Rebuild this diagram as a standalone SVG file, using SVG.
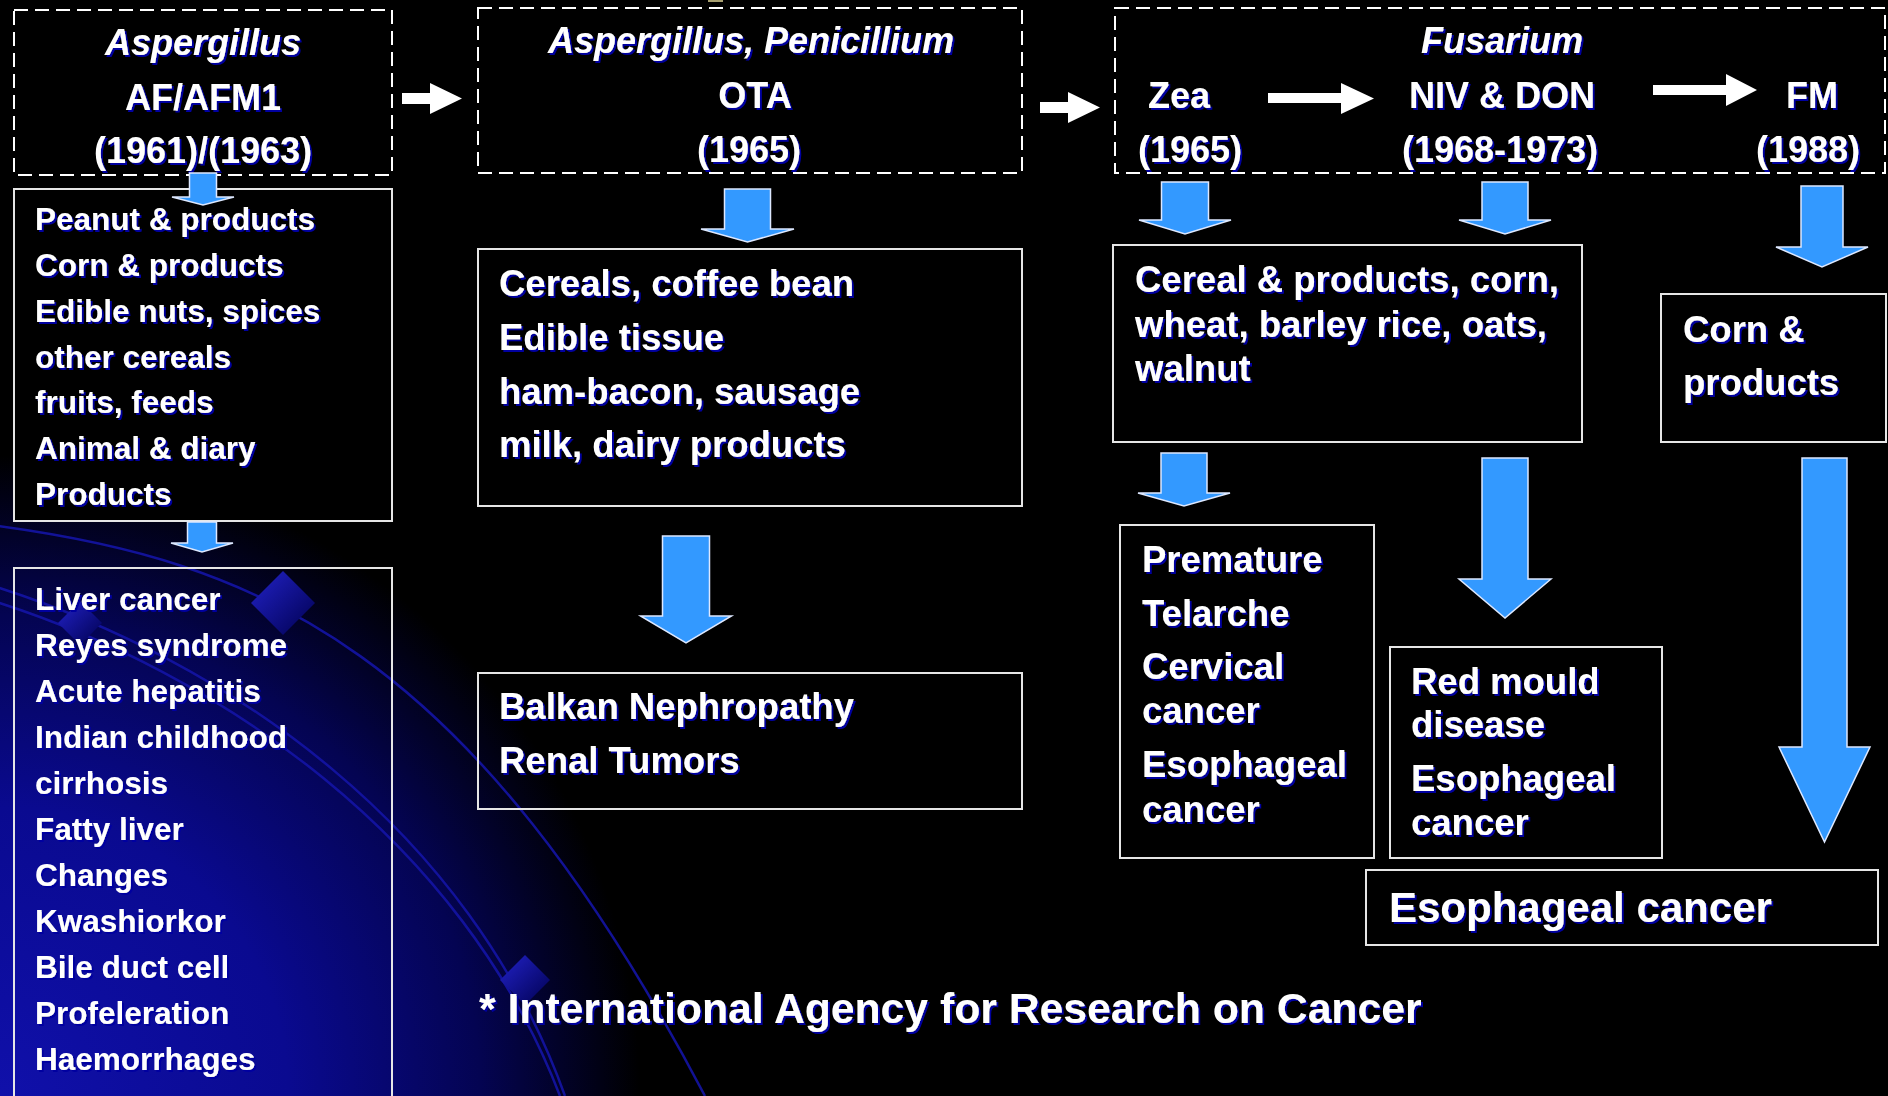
<svg xmlns="http://www.w3.org/2000/svg" width="1888" height="1096" viewBox="0 0 1888 1096">
<defs>
<radialGradient id="bg" cx="0" cy="1096" r="640" gradientUnits="userSpaceOnUse">
<stop offset="0" stop-color="#1010aa"/>
<stop offset="0.45" stop-color="#0a0a90"/>
<stop offset="0.75" stop-color="#040452"/>
<stop offset="1" stop-color="#000000"/>
</radialGradient>
<linearGradient id="dia" x1="0" y1="0" x2="1" y2="1">
<stop offset="0" stop-color="#2222c8"/>
<stop offset="1" stop-color="#000050"/>
</linearGradient>
<filter id="sh" x="-5%" y="-20%" width="110%" height="140%">
<feDropShadow dx="2" dy="2" stdDeviation="0.4" flood-color="#0000a0" flood-opacity="1"/>
</filter>
<style>
.t{font-family:"Liberation Sans",Arial,Helvetica,sans-serif;font-weight:bold;fill:#ffffff;filter:url(#sh)}
.i{font-style:italic}
.c{text-anchor:middle}
.h{font-size:36px}
.s{font-size:31.5px}
.m{font-size:36.5px}
.box{fill:none;stroke:#e6e6e6;stroke-width:2}
.dbox{fill:none;stroke:#ffffff;stroke-width:2;stroke-dasharray:14 7}
.ba{fill:#3399ff;stroke:#dde8ff;stroke-width:1.5}
.wa{fill:#ffffff}
.curve{fill:none;stroke:#1414a4;stroke-width:2.5;opacity:0.9}
</style>
</defs>
<rect x="0" y="0" width="1888" height="1096" fill="#000"/>
<rect x="0" y="0" width="1888" height="1096" fill="url(#bg)"/>
<g id="background">
<path class="curve" d="M -10,525 C 260,560 470,650 705,1096"/>
<path class="curve" d="M -10,585 C 230,660 470,830 565,1096"/>
<path class="curve" d="M -10,600 C 220,672 462,840 560,1096"/>
<polygon points="283,571 315,603 283,635 251,603" fill="url(#dia)"/>
<polygon points="80,601 102,623 80,645 58,623" fill="url(#dia)"/>
<polygon points="525,955 550,980 525,1005 500,980" fill="url(#dia)"/>
<rect x="708" y="0" width="15" height="2" fill="#a8a070"/>
</g>

<g id="node-af">
<rect class="dbox" x="14" y="10" width="378" height="165"/>
<text class="t h i c" x="203" y="55">Aspergillus</text>
<text class="t h c" x="203" y="110">AF/AFM1</text>
<text class="t h c" x="203" y="163">(1961)/(1963)</text>
</g>

<g id="node-af-foods">
<rect class="box" x="14" y="189" width="378" height="332" style="fill:#000"/>
<text class="t s" x="35" y="230">Peanut &amp; products</text>
<text class="t s" x="35" y="276">Corn &amp; products</text>
<text class="t s" x="35" y="322">Edible nuts, spices</text>
<text class="t s" x="35" y="368">other cereals</text>
<text class="t s" x="35" y="413">fruits, feeds</text>
<text class="t s" x="35" y="459">Animal &amp; diary</text>
<text class="t s" x="35" y="505">Products</text>
</g>

<g id="node-af-diseases">
<rect class="box" x="14" y="568" width="378" height="540"/>
<text class="t s" x="35" y="610">Liver cancer</text>
<text class="t s" x="35" y="656">Reyes syndrome</text>
<text class="t s" x="35" y="702">Acute hepatitis</text>
<text class="t s" x="35" y="748">Indian childhood</text>
<text class="t s" x="35" y="794">cirrhosis</text>
<text class="t s" x="35" y="840">Fatty liver</text>
<text class="t s" x="35" y="886">Changes</text>
<text class="t s" x="35" y="932">Kwashiorkor</text>
<text class="t s" x="35" y="978">Bile duct cell</text>
<text class="t s" x="35" y="1024">Profeleration</text>
<text class="t s" x="35" y="1070">Haemorrhages</text>
</g>

<g id="node-ota">
<rect class="dbox" x="478" y="8" width="544" height="165"/>
<text class="t h i c" x="751" y="53">Aspergillus, Penicillium</text>
<text class="t h c" x="755" y="108">OTA</text>
<text class="t h c" x="749" y="162">(1965)</text>
</g>

<g id="node-ota-foods">
<rect class="box" x="478" y="249" width="544" height="257"/>
<text class="t m" x="499" y="296">Cereals, coffee bean</text>
<text class="t m" x="499" y="350">Edible tissue</text>
<text class="t m" x="499" y="404">ham-bacon, sausage</text>
<text class="t m" x="499" y="457">milk, dairy products</text>
</g>

<g id="node-ota-diseases">
<rect class="box" x="478" y="673" width="544" height="136"/>
<text class="t m" x="499" y="719">Balkan Nephropathy</text>
<text class="t m" x="499" y="773">Renal Tumors</text>
</g>

<g id="node-fusarium">
<rect class="dbox" x="1115" y="8" width="770" height="165"/>
<text class="t h i c" x="1502" y="53">Fusarium</text>
<text class="t h" x="1148" y="108">Zea</text>
<text class="t h c" x="1190" y="162">(1965)</text>
<text class="t h c" x="1502" y="108">NIV &amp; DON</text>
<text class="t h c" x="1500" y="162">(1968-1973)</text>
<text class="t h c" x="1812" y="108">FM</text>
<text class="t h c" x="1808" y="162">(1988)</text>
</g>

<g id="node-fus-foods">
<rect class="box" x="1113" y="245" width="469" height="197"/>
<text class="t m" x="1135" y="292">Cereal &amp; products, corn,</text>
<text class="t m" x="1135" y="336.5">wheat, barley rice, oats,</text>
<text class="t m" x="1135" y="381">walnut</text>
</g>

<g id="node-fm-foods">
<rect class="box" x="1661" y="294" width="225" height="148"/>
<text class="t m" x="1683" y="342">Corn &amp;</text>
<text class="t m" x="1683" y="395">products</text>
</g>

<g id="node-zea-diseases">
<rect class="box" x="1120" y="525" width="254" height="333"/>
<text class="t m" x="1142" y="572">Premature</text>
<text class="t m" x="1142" y="626">Telarche</text>
<text class="t m" x="1142" y="679">Cervical</text>
<text class="t m" x="1142" y="723">cancer</text>
<text class="t m" x="1142" y="777">Esophageal</text>
<text class="t m" x="1142" y="822">cancer</text>
</g>

<g id="node-don-diseases">
<rect class="box" x="1390" y="647" width="272" height="211"/>
<text class="t m" x="1411" y="694">Red mould</text>
<text class="t m" x="1411" y="737">disease</text>
<text class="t m" x="1411" y="791">Esophageal</text>
<text class="t m" x="1411" y="835">cancer</text>
</g>

<g id="node-fm-diseases">
<rect class="box" x="1366" y="870" width="512" height="75"/>
<text class="t" style="font-size:42px" x="1389" y="922">Esophageal cancer</text>
</g>

<g id="footnote">
<text class="t" style="font-size:42.7px" x="479" y="1023">* International Agency for Research on Cancer</text>
</g>

<g id="connectors">
<polygon class="wa" points="402,93 430,93 430,83 462,98.5 430,114 430,104 402,104"/>
<polygon class="wa" points="1040,102 1068,102 1068,92 1100,107.5 1068,123 1068,113 1040,113"/>
<polygon class="wa" points="1268,93 1341,93 1341,83 1374,98.5 1341,114 1341,103 1268,103"/>
<polygon class="wa" points="1653,85 1726,85 1726,74 1757,90 1726,106 1726,95 1653,95"/>
<polygon class="ba" points="189.5,173 216.5,173 216.5,197 234,197 203,205 172,197 189.5,197"/>
<polygon class="ba" points="187.5,522 216.5,522 216.5,543 233,543 202,552 171,543 187.5,543"/>
<polygon class="ba" points="724.5,189 770.5,189 770.5,229 794,229 747.5,242 701,229 724.5,229"/>
<polygon class="ba" points="662.5,536 709.5,536 709.5,616 731.5,616 686,643 640.5,616 662.5,616"/>
<polygon class="ba" points="1161.5,182 1208.5,182 1208.5,220 1231,220 1185,234 1139,220 1161.5,220"/>
<polygon class="ba" points="1482,182 1528,182 1528,220 1551,220 1505,234 1459,220 1482,220"/>
<polygon class="ba" points="1801,186 1843,186 1843,247 1868,247 1822,267 1776,247 1801,247"/>
<polygon class="ba" points="1161,453 1207,453 1207,493 1230,493 1184,506 1138,493 1161,493"/>
<polygon class="ba" points="1482,458 1528,458 1528,579 1551,579 1505,618 1459,579 1482,579"/>
<polygon class="ba" points="1802,458 1847,458 1847,747 1870,747 1824.5,842 1779,747 1802,747"/>
</g>
</svg>
